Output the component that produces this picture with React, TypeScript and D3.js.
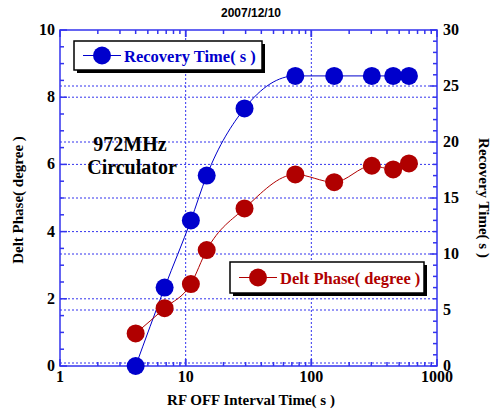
import React, { useEffect, useRef } from "react";
import * as d3 from "d3";

// interval times (s)
const intervals = [4, 6.8, 11, 14.7, 29.4, 74.6, 152, 303, 448, 598];
// recovery time (s), right axis
const recovery = [0, 7.0, 13.0, 17.0, 23.0, 25.9, 25.9, 25.9, 25.9, 25.9];
// delt phase (degree), left axis
const phase = [0.97, 1.72, 2.44, 3.45, 4.69, 5.7, 5.47, 5.96, 5.85, 6.03];

const xTicks = [1, 10, 100, 1000];
const leftTicks = [0, 2, 4, 6, 8, 10];
const rightTicks = [0, 5, 10, 15, 20, 25, 30];

const BLUE = "#0000cc";
const RED = "#b00000";
const AXIS = "#3333ee";
const SERIF = "Liberation Serif, Times New Roman, Times, DejaVu Serif, serif";

const App = () => {
  const svgRef = useRef(null);

  useEffect(() => {
    const W = 493, H = 414;
    const plot = { left: 60, right: 437, top: 30, bottom: 366 };

    const svg = d3.select(svgRef.current);
    svg.selectAll("*").remove();

    const x = d3.scaleLog().domain([1, 1000]).range([plot.left, plot.right]);
    const yL = d3.scaleLinear().domain([0, 10]).range([plot.bottom, plot.top]);
    const yR = d3.scaleLinear().domain([0, 30]).range([plot.bottom, plot.top]);

    svg.append("rect").attr("width", W).attr("height", H).attr("fill", "#fff");

    // grid
    const grid = svg.append("g")
      .attr("stroke", AXIS)
      .attr("stroke-width", 1)
      .attr("stroke-dasharray", "2,2");
    [2, 4, 6, 8].forEach((v) => {
      grid.append("line").attr("x1", plot.left).attr("x2", plot.right)
        .attr("y1", yL(v)).attr("y2", yL(v));
    });
    [5, 10, 15, 20, 25].forEach((v) => {
      grid.append("line").attr("x1", plot.left).attr("x2", plot.right)
        .attr("y1", yR(v)).attr("y2", yR(v));
    });
    grid.append("line").attr("x1", plot.left).attr("x2", plot.right)
      .attr("y1", plot.bottom - 3).attr("y2", plot.bottom - 3);
    [10, 100].forEach((v) => {
      grid.append("line").attr("x1", x(v)).attr("x2", x(v))
        .attr("y1", plot.top).attr("y2", plot.bottom);
    });

    // frame + ticks
    const ax = svg.append("g").attr("stroke", AXIS).attr("stroke-width", 1.5);
    ax.append("rect")
      .attr("x", plot.left).attr("y", plot.top)
      .attr("width", plot.right - plot.left).attr("height", plot.bottom - plot.top)
      .attr("fill", "none");

    // log ticks top & bottom
    const logTicks = [];
    for (let d = 1; d < 1000; d *= 10) {
      for (let k = 1; k <= 10; k++) logTicks.push({ v: d * k, major: k === 1 || k === 10 });
    }
    logTicks.forEach((t) => {
      const len = t.major ? 7 : 4;
      ax.append("line").attr("x1", x(t.v)).attr("x2", x(t.v))
        .attr("y1", plot.top).attr("y2", plot.top + len);
      ax.append("line").attr("x1", x(t.v)).attr("x2", x(t.v))
        .attr("y1", plot.bottom).attr("y2", plot.bottom - len);
    });
    d3.range(0, 10.01, 0.5).forEach((v) => {
      const len = v % 2 === 0 ? 7 : 4;
      ax.append("line").attr("x1", plot.left).attr("x2", plot.left + len)
        .attr("y1", yL(v)).attr("y2", yL(v));
    });
    d3.range(0, 30.01, 1).forEach((v) => {
      const len = v % 5 === 0 ? 7 : 4;
      ax.append("line").attr("x1", plot.right).attr("x2", plot.right - len)
        .attr("y1", yR(v)).attr("y2", yR(v));
    });

    // tick labels
    const lbl = svg.append("g")
      .style("font-family", SERIF).attr("font-weight", "bold")
      .attr("font-size", 16).attr("fill", "#000");
    xTicks.forEach((v) => {
      lbl.append("text").attr("x", x(v)).attr("y", plot.bottom + 16)
        .attr("text-anchor", "middle").text(v);
    });
    leftTicks.forEach((v) => {
      lbl.append("text").attr("x", plot.left - 5).attr("y", yL(v) + 5)
        .attr("text-anchor", "end").text(v);
    });
    rightTicks.forEach((v) => {
      lbl.append("text").attr("x", plot.right + 6).attr("y", yR(v) + 5)
        .attr("text-anchor", "start").text(v);
    });

    // axis titles
    svg.append("text").attr("x", 251).attr("y", 17)
      .attr("text-anchor", "middle")
      .style("font-family", "Liberation Sans, Arial, sans-serif")
      .attr("font-weight", "bold").attr("font-size", 12)
      .text("2007/12/10");
    svg.append("text").attr("x", 251).attr("y", 405)
      .attr("text-anchor", "middle")
      .style("font-family", SERIF).attr("font-weight", "bold").attr("font-size", 15)
      .text("RF OFF Interval Time( s )");
    svg.append("text")
      .attr("transform", "translate(23,200) rotate(-90)")
      .attr("text-anchor", "middle")
      .style("font-family", SERIF).attr("font-weight", "bold").attr("font-size", 15)
      .text("Delt Phase( degree )");
    svg.append("text")
      .attr("transform", "translate(479,198) rotate(90)")
      .attr("text-anchor", "middle")
      .style("font-family", SERIF).attr("font-weight", "bold").attr("font-size", 15)
      .text("Recovery Time( s )");

    // annotation
    const ann = svg.append("g")
      .style("font-family", SERIF).attr("font-weight", "bold").attr("font-size", 20)
      .attr("text-anchor", "middle");
    ann.append("text").attr("x", 130).attr("y", 151).text("972MHz");
    ann.append("text").attr("x", 132).attr("y", 174).text("Circulator");

    // series
    const drawSeries = (vals, y, color) => {
      const pts = intervals.map((t, i) => [x(t), y(vals[i])]);
      svg.append("path")
        .attr("d", d3.line().curve(d3.curveMonotoneX)(pts))
        .attr("fill", "none").attr("stroke", color).attr("stroke-width", 1);
      svg.append("g").selectAll("circle")
        .data(pts).enter().append("circle")
        .attr("cx", (d) => d[0]).attr("cy", (d) => d[1])
        .attr("r", 9).attr("fill", color);
    };
    drawSeries(recovery, yR, BLUE);
    drawSeries(phase, yL, RED);

    // legends
    const legend = (bx, by, bw, bh, color, label) => {
      const g = svg.append("g");
      g.append("rect").attr("x", bx + 3).attr("y", by + 3)
        .attr("width", bw).attr("height", bh).attr("fill", "#000");
      g.append("rect").attr("x", bx).attr("y", by)
        .attr("width", bw).attr("height", bh)
        .attr("fill", "#fff").attr("stroke", "#000").attr("stroke-width", 1.5);
      const cy = by + bh / 2;
      g.append("line").attr("x1", bx + 9).attr("x2", bx + 47)
        .attr("y1", cy).attr("y2", cy).attr("stroke", color).attr("stroke-width", 1);
      g.append("circle").attr("cx", bx + 28).attr("cy", cy).attr("r", 9).attr("fill", color);
      g.append("text").attr("x", bx + 50).attr("y", cy + 6)
        .style("font-family", SERIF).attr("font-weight", "bold").attr("font-size", 16.5)
        .attr("fill", color).text(label);
    };
    legend(74, 41, 188, 29, BLUE, "Recovery Time( s )");
    legend(230, 262, 194, 31, RED, "Delt Phase( degree )");
  }, []);

  return (
    <svg
      ref={svgRef}
      width={493}
      height={414}
      style={{ position: "absolute", left: 0, top: 0 }}
    ></svg>
  );
};

export default App;
